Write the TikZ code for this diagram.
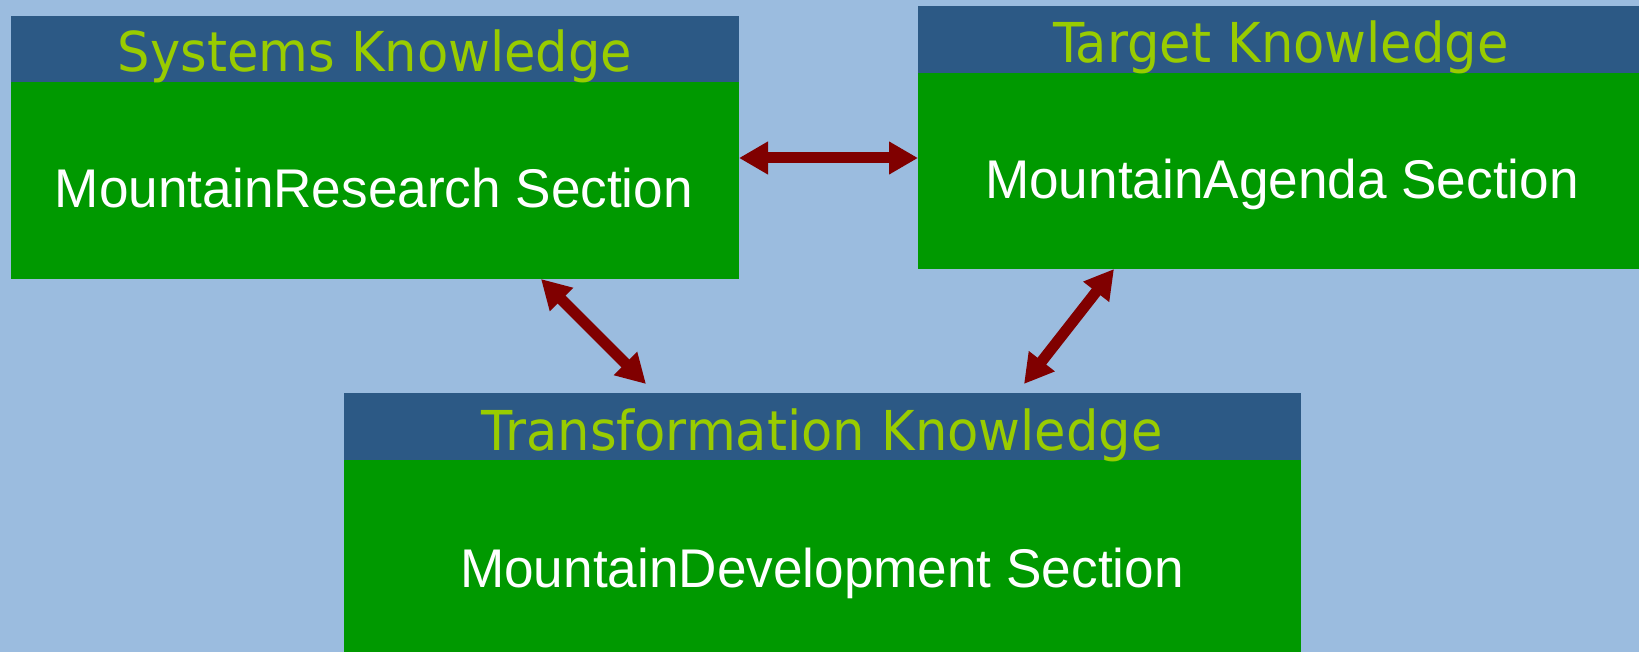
\documentclass[tikz,border=0pt]{standalone}
\usepackage{fontspec}
\setmainfont{Liberation Sans}
\newfontfamily\hdrfont[FakeStretch=0.93]{DejaVu Sans}
\newfontfamily\bodyfont[FakeStretch=0.975]{Liberation Sans}
\usetikzlibrary{arrows.meta}
\definecolor{bg}{HTML}{9BBCDF}
\definecolor{hdr}{HTML}{2C5985}
\definecolor{boxgreen}{HTML}{009900}
\definecolor{hdrtext}{HTML}{99CC00}
\definecolor{arr}{HTML}{800000}
\begin{document}
\begin{tikzpicture}[x=0.5pt,y=-0.5pt,
  hdrbox/.style={fill=hdr, draw=none, anchor=north west, inner sep=0pt, outer sep=0pt},
  bodybox/.style={fill=boxgreen, draw=none, anchor=north west, inner sep=0pt, outer sep=0pt},
  hdrlabel/.style={anchor=base, inner sep=0pt, text=hdrtext, font=\hdrfont\fontsize{27.5pt}{30pt}\selectfont},
  bodylabel/.style={anchor=base, inner sep=0pt, text=white, font=\bodyfont\fontsize{27.25pt}{30pt}\selectfont},
  link/.style={draw=arr, line width=5.5pt, {Triangle[length=14.5pt,width=15.5pt]}-{Triangle[length=14.5pt,width=15.5pt]}}]
\fill[bg] (0,0) rectangle (1639,652);
\useasboundingbox (0,0) rectangle (1639,652);
% Systems
\node[hdrbox, minimum width=364pt, minimum height=33pt] (sysh) at (11,16) {};
\node[bodybox, minimum width=364pt, minimum height=98.5pt] (sysb) at (11,82) {};
\node[hdrlabel] (syst) at (375,72) {Systems Knowledge};
\node[bodylabel] (sysl) at (374,208) {MountainResearch Section};
% Target
\node[hdrbox, minimum width=362pt, minimum height=33.5pt] (tgth) at (918,6) {};
\node[bodybox, minimum width=362pt, minimum height=98pt] (tgtb) at (918,73) {};
\node[hdrlabel] (tgtt) at (1281,63) {Target Knowledge};
\node[bodylabel] (tgtl) at (1282,199) {MountainAgenda Section};
% Transformation
\node[hdrbox, minimum width=478.5pt, minimum height=33.5pt] (trah) at (344,393) {};
\node[bodybox, minimum width=478.5pt, minimum height=100pt] (trab) at (344,460) {};
\node[hdrlabel] (trat) at (822,450) {Transformation Knowledge};
\node[bodylabel] (tral) at (822,587) {MountainDevelopment Section};
% connectors
\coordinate (h1) at (739,158);
\coordinate (h2) at (918,158);
\coordinate (d1a) at (541,279);
\coordinate (d1b) at (646,384);
\coordinate (d2a) at (1114,269);
\coordinate (d2b) at (1024,384);
\draw[link] (h1) -- (h2);
\draw[link] (d1a) -- (d1b);
\draw[link] (d2a) -- (d2b);
\end{tikzpicture}
\end{document}
